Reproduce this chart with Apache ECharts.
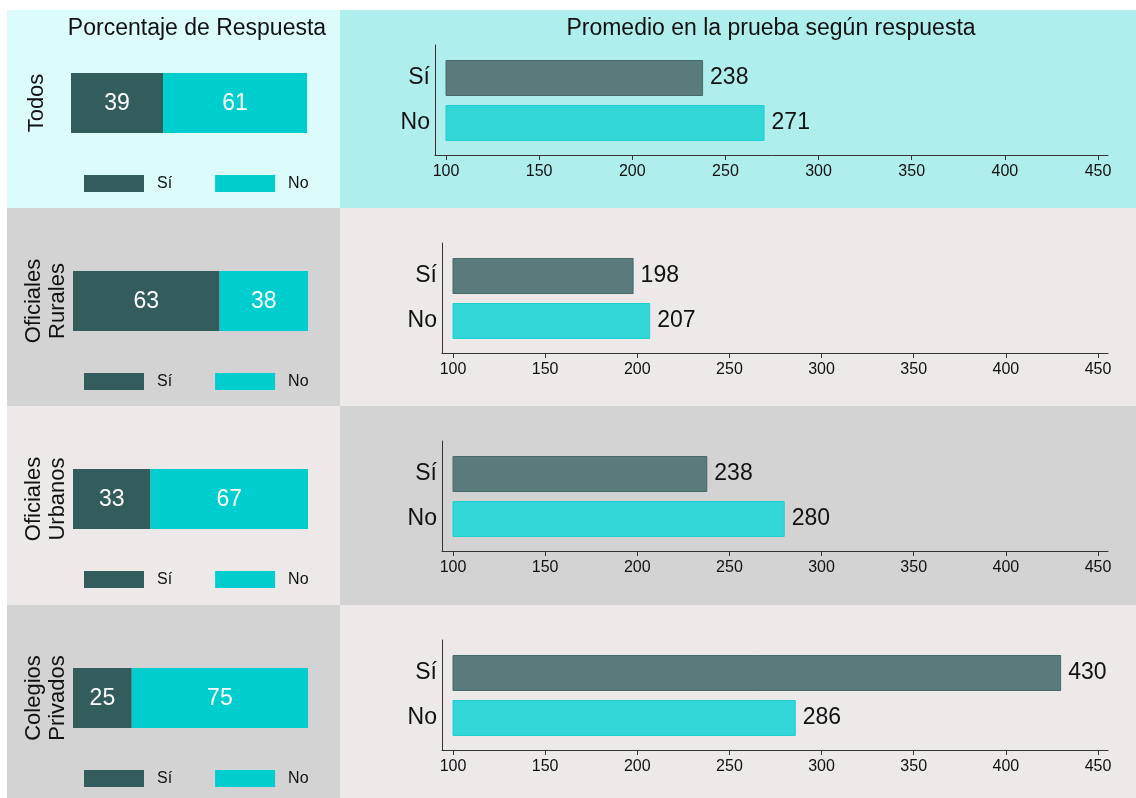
<!DOCTYPE html>
<html lang="es">
<head>
  <meta charset="UTF-8">
  <title>Porcentaje de Respuesta y Promedio</title>
  <script src="https://cdn.jsdelivr.net/npm/echarts@6/dist/echarts.min.js"></script>
  <style>
    html, body { margin: 0; padding: 0; background: #fff; }
    #main { width: 1136px; height: 798px; }
  </style>
</head>
<body>

  <div id="main"></div>

  <script type="text/javascript">
    // Data
    const groups = ['Todos', 'Oficiales\nRurales', 'Oficiales\nUrbanos', 'Colegios\nPrivados'];
    const answers = ['Sí', 'No'];
    const pctSi = [39, 63, 33, 25];
    const pctNo = [61, 38, 67, 75];
    const scoreSi = [238, 198, 238, 430];
    const scoreNo = [271, 207, 280, 286];

    let myChart = echarts.init(document.getElementById('main'));

    // Layout of the four rows
    const rowTop = [10, 208, 406, 605];
    const rowH = [198, 198, 199, 193];
    const leftBg = ['#dcfcfc', '#d3d3d3', '#ece9e8', '#d3d3d3'];
    const rightBg = ['#b0eded', '#ece9e8', '#d3d3d3', '#ece9e8'];
    const darkCol = '#335c5c';
    const cyanCol = '#00cdcd';
    const font = "'Liberation Sans', Arial, sans-serif";

    let grids = [], xAxes = [], yAxes = [], series = [], legends = [], elements = [];

    groups.forEach((g, i) => {
      const T = rowTop[i];
      const axisX = i === 0 ? 435 : 442;   // where the axis lines sit
      const barX = i === 0 ? 446 : 453;    // where 100 sits
      const base = i * 3;

      // left: stacked percentage bar
      grids.push({ left: i === 0 ? 71 : 73, top: T + 63, width: i === 0 ? 236 : 235, height: 60 });
      xAxes.push({ gridIndex: base, type: 'value', min: 0, max: pctSi[i] + pctNo[i], show: false });
      yAxes.push({ gridIndex: base, type: 'category', data: [g], show: false });
      [['Sí', pctSi, darkCol], ['No', pctNo, cyanCol]].forEach(([name, arr, col]) => {
        series.push({
          name: name, type: 'bar', stack: 'p' + i,
          xAxisIndex: base, yAxisIndex: base,
          data: [arr[i]], barWidth: 60,
          itemStyle: { color: col },
          label: { show: true, position: 'inside', color: '#fff', fontSize: 23, fontFamily: font, offset: [0, 1] },
          emphasis: { disabled: true }
        });
      });

      // right: frame with the axis lines
      grids.push({ left: axisX, top: T + 35, width: 1108 - axisX, height: 110 });
      const frameAxis = {
        gridIndex: base + 1, type: 'value', min: 0, max: 1,
        axisLine: { show: true, lineStyle: { color: '#333', width: 1 } },
        axisTick: { show: false }, axisLabel: { show: false }, splitLine: { show: false }
      };
      xAxes.push(Object.assign({}, frameAxis));
      yAxes.push(Object.assign({}, frameAxis));

      // right: the score bars
      grids.push({ left: barX, top: T + 45.5, width: 1098 - barX, height: 90 });
      xAxes.push({
        gridIndex: base + 2, type: 'value', min: 100, max: 450, interval: 50, offset: 9.5,
        axisLine: { show: false },
        axisTick: { show: true, length: 5, lineStyle: { color: '#333' } },
        axisLabel: { fontSize: 16, color: '#111', margin: 9, fontFamily: font },
        splitLine: { show: false }
      });
      yAxes.push({
        gridIndex: base + 2, type: 'category', inverse: true, data: answers, offset: barX - axisX,
        axisLine: { show: false }, axisTick: { show: false },
        axisLabel: { fontSize: 23, color: '#111', margin: 5, fontFamily: font }
      });
      series.push({
        name: 'Promedio', type: 'bar', xAxisIndex: base + 2, yAxisIndex: base + 2,
        barWidth: 36,
        data: [
          { value: scoreSi[i], itemStyle: { color: '#5a7b7b', borderColor: '#476a6a', borderWidth: 1 } },
          { value: scoreNo[i], itemStyle: { color: '#33d6d6', borderColor: '#1fd0d0', borderWidth: 1 } }
        ],
        label: { show: true, position: 'right', distance: 7, fontSize: 23, color: '#111', fontFamily: font },
        emphasis: { disabled: true }
      });

      legends.push({
        data: answers, left: 84, top: T + 165, padding: 0, icon: 'rect',
        itemWidth: 60, itemHeight: 17, itemGap: 43, selectedMode: false,
        textStyle: { fontSize: 16, color: '#111', padding: [0, 0, 0, 8], fontFamily: font }
      });

      // panel backgrounds
      elements.push({ type: 'rect', z: -100, shape: { x: 7, y: T, width: 333, height: rowH[i] }, style: { fill: leftBg[i] } });
      elements.push({ type: 'rect', z: -100, shape: { x: 340, y: T, width: 796, height: rowH[i] }, style: { fill: rightBg[i] } });

      // row label, turned
      elements.push({
        type: 'text', x: g.indexOf('\n') >= 0 ? 46 : 37, y: T + 93, rotation: Math.PI / 2,
        style: { text: g, fontSize: 22, lineHeight: 24, fill: '#111', align: 'center', verticalAlign: 'middle', fontFamily: font }
      });
    });

    elements.push({
      type: 'text', x: 197, y: 29,
      style: { text: 'Porcentaje de Respuesta', fontSize: 23, fill: '#111', align: 'center', verticalAlign: 'middle', fontFamily: font }
    });
    elements.push({
      type: 'text', x: 771, y: 29,
      style: { text: 'Promedio en la prueba según respuesta', fontSize: 23, fill: '#111', align: 'center', verticalAlign: 'middle', fontFamily: font }
    });

    let options = {
      animation: false,
      textStyle: { fontFamily: font },
      grid: grids,
      xAxis: xAxes,
      yAxis: yAxes,
      legend: legends,
      graphic: { elements: elements },
      series: series
    };

    myChart.setOption(options);
  </script>
</body>
</html>
